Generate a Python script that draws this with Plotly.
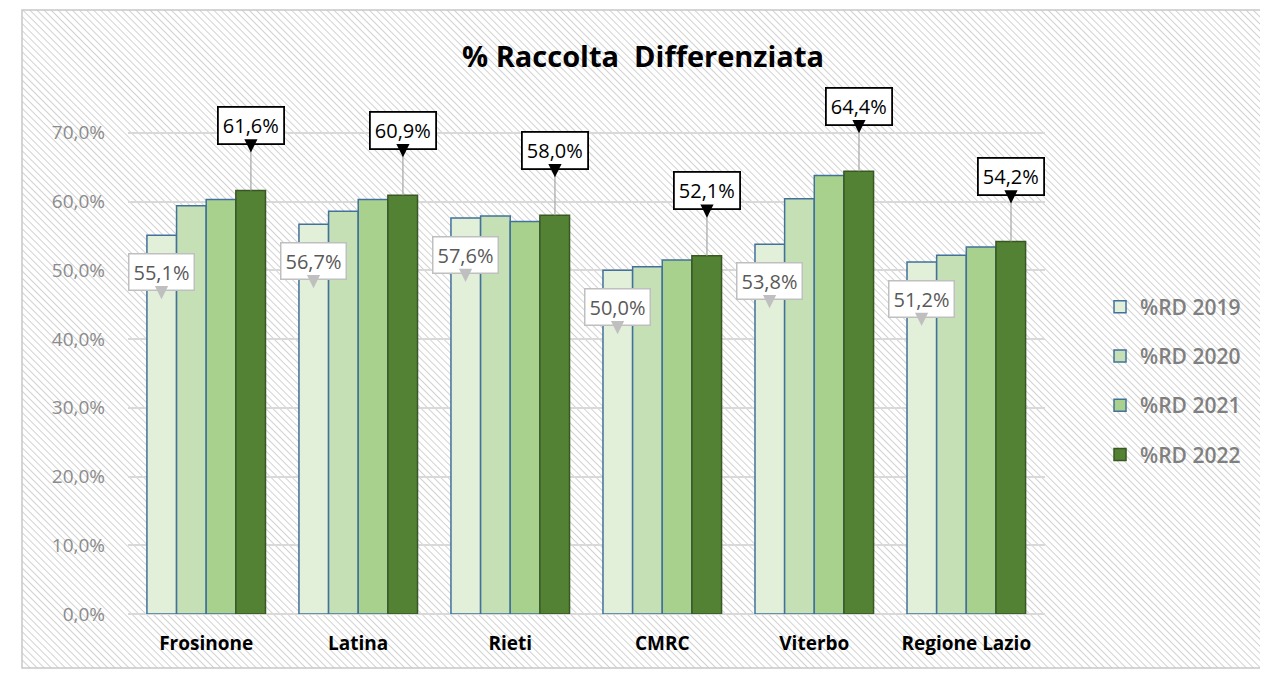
import base64
import plotly.graph_objects as go

# Data
categories = ["Frosinone", "Latina", "Rieti", "CMRC", "Viterbo", "Regione Lazio"]
rd_2019 = [55.1, 56.7, 57.6, 50.0, 53.8, 51.2]
rd_2020 = [59.4, 58.6, 57.9, 50.5, 60.4, 52.2]
rd_2021 = [60.3, 60.3, 57.1, 51.5, 63.8, 53.4]
rd_2022 = [61.6, 60.9, 58.0, 52.1, 64.4, 54.2]
series_names = ["%RD 2019", "%RD 2020", "%RD 2021", "%RD 2022"]

# page body adds an 8px margin, so the figure is a bit smaller and shifted
W, H = 1260, 668
ML, MR, MT, MB = 120, 223, 111, 62
PW, PH = W - ML - MR, H - MT - MB

fill_colors = ["#e2efd9", "#c5e0b4", "#a9d18e", "#548235"]
line_colors = ["#41719c", "#41719c", "#41719c", "#385723"]


def pct(v):
    return f"{v:.1f}%".replace(".", ",")


# hatched background (diagonal light grey lines), drawn as an inline svg
fx, fy = 14, 2
fw, fh = 1240, 658
svg = (
    f'<svg xmlns="http://www.w3.org/2000/svg" width="{fw}" height="{fh}">'
    '<defs><pattern id="h" width="5" height="5" patternUnits="userSpaceOnUse" '
    'patternTransform="rotate(-45)"><rect width="5" height="5" fill="#ffffff"/>'
    '<line x1="0" y1="0" x2="0" y2="5" stroke="#d2d2d2" stroke-width="2"/></pattern></defs>'
    f'<rect width="{fw}" height="{fh}" fill="url(#h)"/></svg>'
)
bg_uri = "data:image/svg+xml;base64," + base64.b64encode(svg.encode()).decode()

fig = go.Figure()

all_series = [rd_2019, rd_2020, rd_2021, rd_2022]
for name, vals, fc, lc in zip(series_names, all_series, fill_colors, line_colors):
    fig.add_trace(
        go.Bar(
            name=name,
            x=categories,
            y=[v / 100 for v in vals],
            marker=dict(color=fc, line=dict(color=lc, width=1.5)),
            legendgroup=name,
            hovertemplate="%{x}<br>" + name + ": %{y:.1%}<extra></extra>",
        )
    )

bar_px = PW / len(categories) * 0.78 / 4
annotations = []
for cat, v in zip(categories, rd_2019):
    # white callout with grey border pointing down into the 2019 bar
    annotations.append(dict(
        x=cat, y=v / 100, xref="x", yref="y", xshift=-1.5 * bar_px, yshift=-64,
        text=pct(v), showarrow=True, ax=0, ay=-27,
        arrowhead=2, arrowsize=2.2, arrowwidth=1.2, arrowcolor="#bfbfbf",
        font=dict(size=20, color="#595959", family="Open Sans"),
        bgcolor="#ffffff", bordercolor="#bfbfbf", borderwidth=1.5, borderpad=4,
    ))
for cat, v in zip(categories, rd_2022):
    # leader line from the callout down to the 2022 bar
    annotations.append(dict(
        x=cat, y=v / 100, xref="x", yref="y", xshift=1.5 * bar_px,
        text="", showarrow=True, ax=0, ay=-42, arrowhead=0,
        arrowwidth=1.2, arrowcolor="#a6a6a6",
    ))
    annotations.append(dict(
        x=cat, y=v / 100, xref="x", yref="y", xshift=1.5 * bar_px, yshift=38,
        text=pct(v), showarrow=True, ax=0, ay=-27,
        arrowhead=2, arrowsize=2.2, arrowwidth=1.2, arrowcolor="#000000",
        font=dict(size=20, color="#000000", family="Open Sans"),
        bgcolor="#ffffff", bordercolor="#000000", borderwidth=1.8, borderpad=4,
    ))

fig.update_layout(
    width=W,
    height=H,
    margin=dict(l=ML, r=MR, t=MT, b=MB, autoexpand=False),
    separators=",.",
    paper_bgcolor="#ffffff",
    plot_bgcolor="rgba(0,0,0,0)",
    barmode="group",
    bargap=0.22,
    bargroupgap=0,
    title=dict(
        text="<b>% Raccolta  Differenziata</b>",
        x=(643 - 8 - ML) / PW, xref="paper", xanchor="center",
        y=1 - (57 - 8) / H, yanchor="middle",
        font=dict(size=29, color="#000000", family="Open Sans"),
    ),
    xaxis=dict(
        type="category",
        showgrid=False,
        showline=False,
        ticks="",
        tickfont=dict(size=19, color="#000000", family="Open Sans"),
        ticklabelstandoff=16,
        tickprefix="<b>",
        ticksuffix="</b>",
    ),
    yaxis=dict(
        range=[0, 0.72],
        dtick=0.1,
        tickformat=".1%",
        showgrid=True,
        gridcolor="#d9d9d9",
        gridwidth=1.5,
        zeroline=True,
        zerolinecolor="#d9d9d9",
        tickfont=dict(size=19, color="#8c8c8c", family="Open Sans"),
        ticklabelstandoff=22,
    ),
    legend=dict(
        x=1.06, xanchor="left", y=(H - MB - (381 - 8)) / PH, yanchor="middle",
        font=dict(size=21, color="#7f7f7f", family="Open Sans", weight=600),
        bgcolor="rgba(0,0,0,0)",
        tracegroupgap=19,
    ),
    annotations=annotations,
    images=[dict(
        source=bg_uri, xref="paper", yref="paper",
        x=(fx - ML) / PW, y=(H - MB - fy) / PH,
        sizex=fw / PW, sizey=fh / PH,
        xanchor="left", yanchor="top", sizing="stretch", layer="below",
    )],
    shapes=[dict(
        type="rect", xref="paper", yref="paper",
        x0=(fx - ML) / PW, x1=(fx + fw - ML) / PW,
        y0=(H - MB - fy - fh) / PH, y1=(H - MB - fy) / PH,
        line=dict(color="#c8c8c8", width=1.5), layer="below",
    )],
)

fig.write_html("out.html")
